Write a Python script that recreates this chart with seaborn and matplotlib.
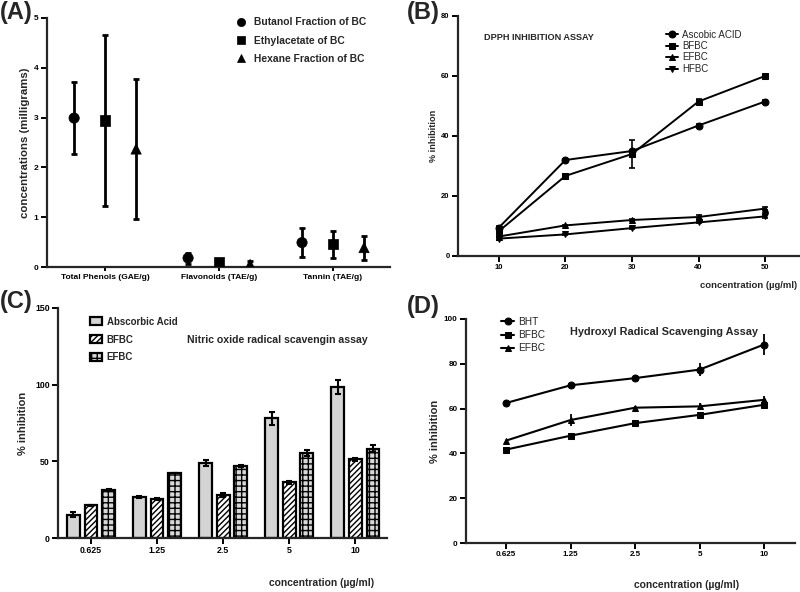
import numpy as np
import pandas as pd
import matplotlib
matplotlib.use("Agg")
import matplotlib.pyplot as plt
import seaborn as sns

# ---------------- data ----------------
# Panel A
a_categories = ["Total Phenols (GAE/g)", "Flavonoids (TAE/g)", "Tannin (TAE/g)"]
a_series = ["Butanol Fraction of BC", "Ethylacetate of BC", "Hexane Fraction of BC"]
a_butanol = [2.99, 0.18, 0.49]
a_butanol_err = [0.73, 0.11, 0.29]
a_ethyl = [2.94, 0.09, 0.46]
a_ethyl_err = [1.71, 0.05, 0.27]
a_hexane = [2.37, 0.05, 0.39]
a_hexane_err = [1.40, 0.07, 0.24]

# Panel B
b_conc = [10, 20, 30, 40, 50]
b_series = ["Ascobic ACID", "BFBC", "EFBC", "HFBC"]
b_ascobic = [9.5, 32.0, 35.0, 43.5, 51.5]
b_ascobic_err = [0.4, 0.4, 0.5, 0.6, 0.6]
b_bfbc = [8.3, 26.7, 34.0, 51.5, 60.0]
b_bfbc_err = [1.5, 0.5, 4.7, 0.8, 0.4]
b_efbc = [6.5, 10.2, 12.0, 13.0, 15.8]
b_efbc_err = [0.3, 0.3, 0.3, 0.6, 0.5]
b_hfbc = [5.8, 7.2, 9.3, 11.2, 13.2]
b_hfbc_err = [0.3, 0.3, 0.3, 0.3, 0.6]

# Panel C
c_conc = ["0.625", "1.25", "2.5", "5", "10"]
c_series = ["Abscorbic Acid", "BFBC", "EFBC"]
c_ascorbic = [15.3, 26.8, 48.9, 78.0, 98.5]
c_ascorbic_err = [1.5, 0.5, 2.0, 4.0, 4.5]
c_bfbc = [21.2, 25.3, 27.9, 36.4, 51.2]
c_bfbc_err = [0.5, 0.5, 1.2, 1.0, 1.0]
c_efbc = [31.4, 42.4, 46.8, 55.4, 58.3]
c_efbc_err = [0.6, 0.3, 0.6, 2.0, 2.5]

# Panel D
d_conc = ["0.625", "1.25", "2.5", "5", "10"]
d_series = ["BHT", "BFBC", "EFBC"]
d_bht = [62.5, 70.4, 73.6, 77.4, 88.6]
d_bht_err = [0.6, 1.2, 1.3, 2.8, 4.6]
d_bfbc = [41.7, 47.9, 53.5, 57.2, 61.7]
d_bfbc_err = [0.8, 0.8, 0.6, 1.0, 1.2]
d_efbc = [45.7, 54.9, 60.4, 61.0, 63.9]
d_efbc_err = [0.5, 2.8, 0.6, 1.5, 1.8]

# ---------------- style ----------------
sns.set_theme(style="ticks")
plt.rcParams["font.family"] = ["Liberation Sans", "DejaVu Sans"]
plt.rcParams["axes.linewidth"] = 1.6
plt.rcParams["hatch.linewidth"] = 1.0

W, H = 800, 592
fig = plt.figure(figsize=(W / 100, H / 100), dpi=100)


def add_ax(left, right, top, bottom):
    return fig.add_axes([left / W, 1 - bottom / H, (right - left) / W, (bottom - top) / H])


def style_ax(ax, tick_size):
    sns.despine(ax=ax)
    ax.tick_params(axis="both", direction="out", length=4, width=1.4, pad=2,
                   labelsize=tick_size, colors="black")
    for lab in ax.get_xticklabels() + ax.get_yticklabels():
        lab.set_fontweight("bold")
    ax.set_facecolor("white")


# ---------------- Panel A ----------------
axA = add_ax(47, 390, 18, 267)
rowsA = []
vals = [a_butanol, a_ethyl, a_hexane]
errs = [a_butanol_err, a_ethyl_err, a_hexane_err]
offset = 0.272
for si, s in enumerate(a_series):
    for ci, c in enumerate(a_categories):
        rowsA.append({"series": s, "category": c,
                      "pos": ci + (si - 1) * offset,
                      "value": vals[si][ci], "err": errs[si][ci]})
dfA = pd.DataFrame(rowsA)
axA.errorbar(dfA["pos"], dfA["value"], yerr=dfA["err"], fmt="none",
             ecolor="black", elinewidth=2.0, capsize=2.5, capthick=2.0, zorder=2)
sns.scatterplot(data=dfA, x="pos", y="value", style="series", style_order=a_series,
                markers=["o", "s", "^"], color="black", s=55, edgecolor="black",
                linewidth=0.5, ax=axA, zorder=3)
axA.set_xlim(-0.51, 2.5)
axA.set_ylim(0, 5)
axA.set_xticks(range(len(a_categories)))
axA.set_xticklabels(a_categories)
axA.set_yticks([0, 1, 2, 3, 4, 5])
axA.set_xlabel("")
axA.set_ylabel("concentrations (milligrams)", fontsize=8.2, fontweight="bold", labelpad=3)
style_ax(axA, 6.0)
axA.tick_params(axis="x", length=3)
hA, lA = axA.get_legend_handles_labels()
axA.legend(hA, lA, loc="upper left", bbox_to_anchor=(0.51, 1.04), frameon=False,
           prop={"weight": "bold", "size": 7.4},
           handletextpad=0.25, labelspacing=0.8, markerscale=0.8)

# ---------------- Panel B ----------------
axB = add_ax(458, 799, 16, 256)
rowsB = []
valsB = [b_ascobic, b_bfbc, b_efbc, b_hfbc]
errsB = [b_ascobic_err, b_bfbc_err, b_efbc_err, b_hfbc_err]
for si, s in enumerate(b_series):
    for ci, c in enumerate(b_conc):
        rowsB.append({"series": s, "conc": c, "value": valsB[si][ci], "err": errsB[si][ci]})
dfB = pd.DataFrame(rowsB)
axB.errorbar(dfB["conc"], dfB["value"], yerr=dfB["err"], fmt="none",
             ecolor="black", elinewidth=1.2, capsize=2, capthick=1.2, zorder=2)
sns.lineplot(data=dfB, x="conc", y="value", style="series", style_order=b_series,
             markers=["o", "s", "^", "v"], dashes=False, color="black",
             linewidth=1.4, markersize=5, markeredgecolor="black", ax=axB, zorder=3)
axB.set_xlim(3.85, 55.1)
axB.set_ylim(0, 80)
axB.set_xticks(b_conc)
axB.set_yticks([0, 20, 40, 60, 80])
axB.set_xlabel("")
axB.set_ylabel("% inhibition", fontsize=6.6, fontweight="bold", labelpad=2)
style_ax(axB, 5.5)
hB, lB = axB.get_legend_handles_labels()
axB.legend(hB, lB, loc="upper left", bbox_to_anchor=(0.585, 0.98), frameon=False,
           prop={"size": 7.0}, handlelength=1.2,
           handletextpad=0.4, labelspacing=0.15)
axB.text(0.075, 0.91, "DPPH INHIBITION ASSAY", transform=axB.transAxes,
         fontsize=6.6, fontweight="bold", va="center", ha="left")
fig.text(797 / W, 1 - 286 / H, "concentration (\u00b5g/ml)", fontsize=6.8,
         fontweight="bold", ha="right", va="center")

# ---------------- Panel C ----------------
axC = add_ax(58, 387, 308, 538)
rowsC = []
valsC = [c_ascorbic, c_bfbc, c_efbc]
errsC = [c_ascorbic_err, c_bfbc_err, c_efbc_err]
for si, s in enumerate(c_series):
    for ci, c in enumerate(c_conc):
        rowsC.append({"series": s, "conc": c, "value": valsC[si][ci], "err": errsC[si][ci]})
dfC = pd.DataFrame(rowsC)
sns.barplot(data=dfC, x="conc", y="value", hue="series", order=c_conc, hue_order=c_series,
            palette=["#d4d4d4", "white", "#d8d8d8"], edgecolor="black", linewidth=1.6,
            gap=0.28, errorbar=None, ax=axC, zorder=2)
bar_containers = list(axC.containers)
hatches = [None, "//////", "+++"]
for cont, hatch in zip(bar_containers, hatches):
    for p in cont.patches:
        p.set_hatch(hatch)
for si, cont in enumerate(bar_containers):
    xs = [p.get_x() + p.get_width() / 2 for p in cont.patches]
    ys = [p.get_height() for p in cont.patches]
    axC.errorbar(xs, ys, yerr=errsC[si], fmt="none", ecolor="black",
                 elinewidth=1.5, capsize=2, capthick=1.5, zorder=3)
axC.set_xlim(-0.5, 4.48)
axC.set_ylim(0, 150)
axC.set_yticks([0, 50, 100, 150])
axC.set_xlabel("")
axC.set_ylabel("% inhibition", fontsize=8, fontweight="bold", labelpad=5)
style_ax(axC, 6.3)
axC.legend(bar_containers, c_series, loc="upper left", bbox_to_anchor=(0.07, 1.0),
           frameon=False, prop={"weight": "bold", "size": 7.0},
           handlelength=1.3, handleheight=0.9, handletextpad=0.45, labelspacing=0.8)
axC.text(0.94, 0.86, "Nitric oxide radical scavengin assay", transform=axC.transAxes,
         fontsize=7.6, fontweight="bold", ha="right", va="center")
fig.text(322 / W, 1 - 583 / H, "concentration (\u00b5g/ml)", fontsize=7.4,
         fontweight="bold", ha="center", va="center")

# ---------------- Panel D ----------------
axD = add_ax(466, 795, 319, 543)
rowsD = []
valsD = [d_bht, d_bfbc, d_efbc]
errsD = [d_bht_err, d_bfbc_err, d_efbc_err]
for si, s in enumerate(d_series):
    for ci, c in enumerate(d_conc):
        rowsD.append({"series": s, "conc": c, "pos": ci, "value": valsD[si][ci],
                      "err": errsD[si][ci]})
dfD = pd.DataFrame(rowsD)
axD.errorbar(dfD["pos"], dfD["value"], yerr=dfD["err"], fmt="none",
             ecolor="black", elinewidth=1.3, capsize=0, zorder=2)
sns.lineplot(data=dfD, x="pos", y="value", style="series", style_order=d_series,
             markers=["o", "s", "^"], dashes=False, color="black",
             linewidth=1.5, markersize=5, markeredgecolor="black", ax=axD, zorder=3)
axD.set_xlim(-0.62, 4.48)
axD.set_ylim(0, 100)
axD.set_xticks(range(len(d_conc)))
axD.set_xticklabels(d_conc)
axD.set_yticks([0, 20, 40, 60, 80, 100])
axD.set_xlabel("")
axD.set_ylabel("% inhibition", fontsize=8, fontweight="bold", labelpad=3)
style_ax(axD, 5.8)
hD, lD = axD.get_legend_handles_labels()
axD.legend(hD, lD, loc="upper left", bbox_to_anchor=(0.08, 1.05), frameon=False,
           prop={"size": 7.3}, handlelength=1.2,
           handletextpad=0.4, labelspacing=0.32)
axD.text(0.602, 0.94, "Hydroxyl Radical Scavenging Assay", transform=axD.transAxes,
         fontsize=7.8, fontweight="bold", ha="center", va="center")
fig.text(687 / W, 1 - 585 / H, "concentration (\u00b5g/ml)", fontsize=7.4,
         fontweight="bold", ha="center", va="center")

# ---------------- panel labels ----------------
for lab, x, y in [("(A)", 0, 1), ("(B)", 407, 1), ("(C)", 0, 290), ("(D)", 407, 295)]:
    fig.text(x / W, 1 - y / H, lab, fontsize=17, fontweight="bold",
             ha="left", va="top")

fig.savefig("out.png", dpi=100, facecolor="white")
